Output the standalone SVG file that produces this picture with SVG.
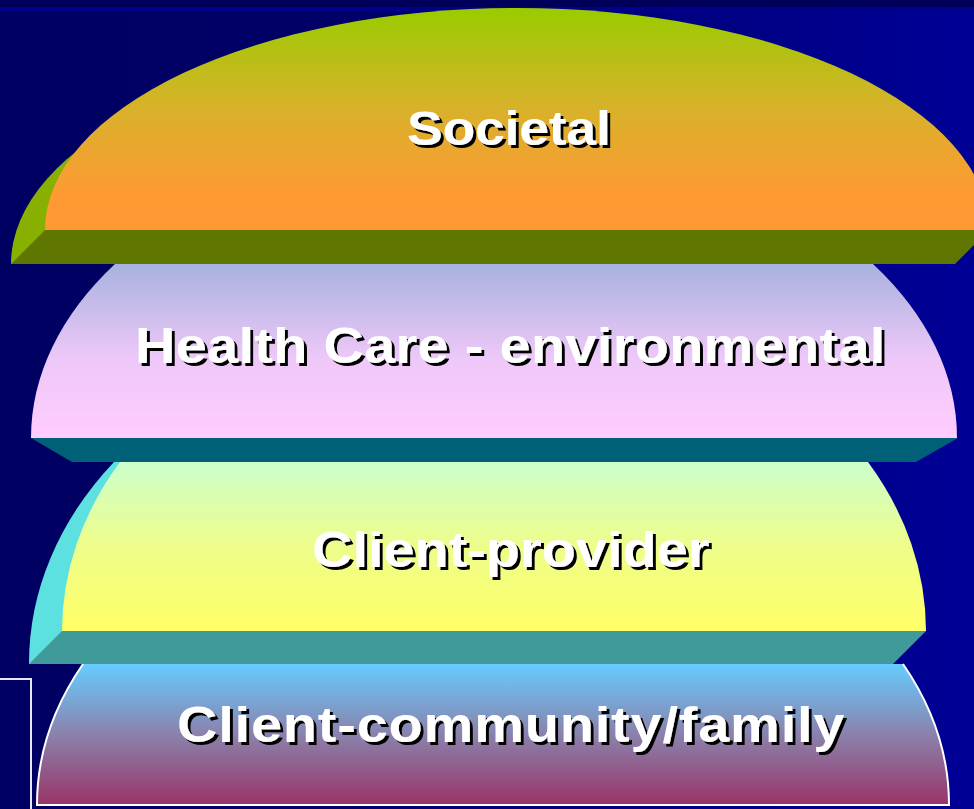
<svg xmlns="http://www.w3.org/2000/svg" width="974" height="809" viewBox="0 0 974 809">
  <defs>
    <linearGradient id="bg" x1="0" y1="0" x2="1" y2="0">
      <stop offset="0" stop-color="#000062"/>
      <stop offset="0.35" stop-color="#000068"/>
      <stop offset="1" stop-color="#000096"/>
    </linearGradient>
    <linearGradient id="g1" gradientUnits="userSpaceOnUse" x1="0" y1="8" x2="0" y2="230">
      <stop offset="0" stop-color="#99cc00"/>
      <stop offset="0.45" stop-color="#d8b22a"/>
      <stop offset="0.85" stop-color="#ff9933"/>
      <stop offset="1" stop-color="#ff9933"/>
    </linearGradient>
    <linearGradient id="g2" gradientUnits="userSpaceOnUse" x1="0" y1="264" x2="0" y2="438">
      <stop offset="0" stop-color="#a8b2e0"/>
      <stop offset="0.55" stop-color="#eec8f8"/>
      <stop offset="1" stop-color="#ffccff"/>
    </linearGradient>
    <linearGradient id="g3" gradientUnits="userSpaceOnUse" x1="0" y1="462" x2="0" y2="631">
      <stop offset="0" stop-color="#ccffcc"/>
      <stop offset="0.5" stop-color="#eefd8a"/>
      <stop offset="1" stop-color="#ffff66"/>
    </linearGradient>
    <linearGradient id="g4" gradientUnits="userSpaceOnUse" x1="0" y1="664" x2="0" y2="805">
      <stop offset="0" stop-color="#66ccff"/>
      <stop offset="0.5" stop-color="#8a82ac"/>
      <stop offset="1" stop-color="#993366"/>
    </linearGradient>
    <filter id="ts" x="-5%" y="-20%" width="115%" height="150%">
      <feOffset in="SourceAlpha" dx="2.5" dy="2.5" result="off"/>
      <feMerge>
        <feMergeNode in="off"/>
        <feMergeNode in="SourceGraphic"/>
      </feMerge>
    </filter>
  </defs>
  <style>
    .lbl { font-family: "Liberation Sans", Arial, sans-serif; font-weight: bold; font-size: 50px; fill: #ffffff; filter: url(#ts); }
  </style>

  <rect x="0" y="0" width="974" height="809" fill="url(#bg)"/>
  <rect x="0" y="0" width="974" height="7" fill="#00005a"/>
  <rect x="0" y="7" width="974" height="4" fill="#00008a"/>

  <g id="layer-client-community">
    <path d="M 37,805 A 456 322 0 0 1 83,664 L 903,664 A 456 322 0 0 1 949,805 Z" fill="url(#g4)"/>
    <path d="M 83,664 A 456 322 0 0 0 37,805 L 949,805 A 456 322 0 0 0 903,664" fill="none" stroke="#ffffff" stroke-width="2"/>
    <text class="lbl" transform="translate(177,742) scale(1.12,1)" x="0" y="0" textLength="596" lengthAdjust="spacing">Client-community/family</text>
  </g>

  <g id="layer-client-provider">
    <path d="M 29,664 A 432 338 0 0 1 114,462 L 494,462 L 494,664 Z" fill="#5ce0e0"/>
    <path d="M 62,631 A 432 338 0 0 1 120,462 L 868,462 A 432 338 0 0 1 926,631 Z" fill="url(#g3)"/>
    <polygon points="62,631 926,631 893,664 29,664" fill="#3f9a99"/>
    <text class="lbl" transform="translate(312,567) scale(1.12,1)" x="0" y="0" textLength="355" lengthAdjust="spacing">Client-provider</text>
  </g>

  <g id="layer-health-care">
    <path d="M 31,438 A 463 303 0 0 1 115,264 L 873,264 A 463 303 0 0 1 957,438 Z" fill="url(#g2)"/>
    <polygon points="31,438 958,438 916,462 72,462" fill="#006077"/>
    <text class="lbl" transform="translate(135,363) scale(1.12,1)" x="0" y="0" textLength="670" lengthAdjust="spacing">Health Care - environmental</text>
  </g>

  <g id="layer-societal">
    <path d="M 11,264 A 472 222 0 0 1 955,264 Z" fill="#88b000"/>
    <path d="M 45,230 A 472 222 0 0 1 989,230 Z" fill="url(#g1)"/>
    <polygon points="45,230 989,230 955,264 11,264" fill="#5f7700"/>
    <text class="lbl" transform="translate(407,145) scale(1.12,1)" x="0" y="0" textLength="182" lengthAdjust="spacing" style="font-size:48px">Societal</text>
  </g>

  <g id="connectors"></g>

  <polyline points="0,679 31,679 31,809" fill="none" stroke="#e6e6f0" stroke-width="2"/>
</svg>
